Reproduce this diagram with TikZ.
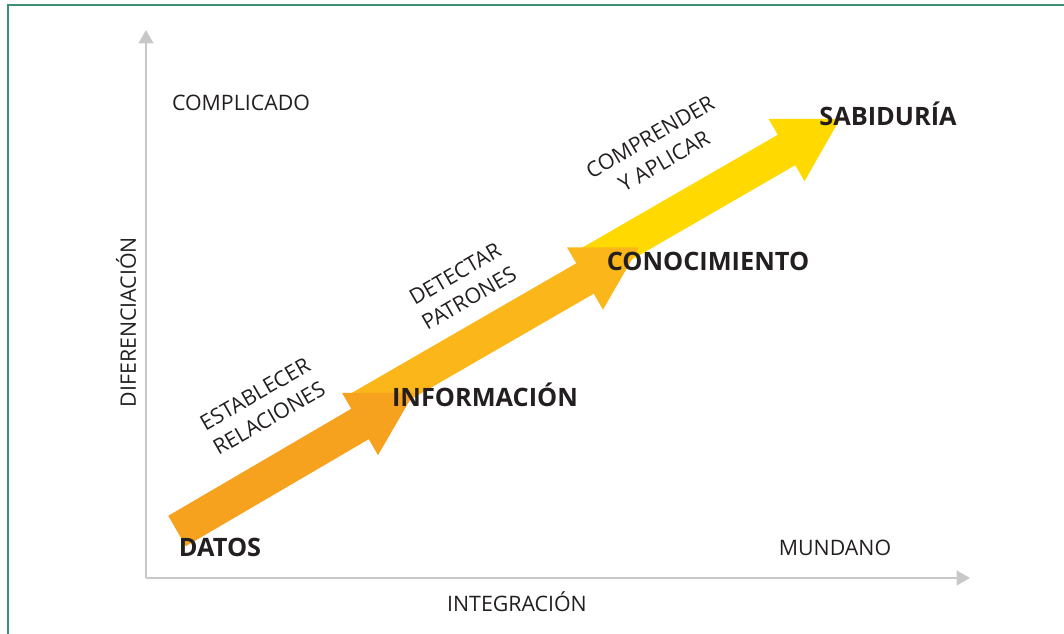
\documentclass[tikz,border=0pt]{standalone}
\usepackage{fontspec}
\setmainfont{Open Sans}
\usetikzlibrary{arrows.meta}
\definecolor{arrA}{HTML}{F7A21E}
\definecolor{arrB}{HTML}{FBB71A}
\definecolor{arrC}{HTML}{FFD900}
\definecolor{axisgray}{HTML}{C8C8C8}
\definecolor{frame}{HTML}{3F8F77}
\definecolor{txt}{HTML}{231F20}
\begin{document}
\begin{tikzpicture}[x=0.75pt,y=-0.75pt,
  lbl/.style={font=\fontsize{16}{21}\selectfont, text=txt, inner sep=0pt},
  big/.style={font=\bfseries\fontsize{19}{22}\selectfont, text=txt, inner sep=0pt},
  diag/.style={lbl, rotate=30, align=center},
  axisline/.style={draw=axisgray, line width=1.6pt, -{Triangle[width=11pt,length=10pt]}}]
\useasboundingbox (0,0) rectangle (1064,634);
% frame
\draw[frame, line width=1.2pt] (8,640) -- (8,5) -- (1070,5);
% axes
\coordinate (O) at (146,578);
\coordinate (Ytop) at (146,30);
\coordinate (Xend) at (970,578);
\draw[axisline] (O) -- (Ytop);
\draw[axisline] (O) -- (Xend);
% arrows (drawn back to front)
\fill[arrC] (579.25,249.4) -- (777.75,134.8) -- (768.5,118.8) -- (840,119) -- (804.5,181.2) -- (795.25,165.2) -- (596.75,279.8) -- cycle;
\fill[arrB] (346.25,396.1) -- (576.25,263.3) -- (567,247.3) -- (638.7,247.5) -- (603,309.7) -- (593.75,293.7) -- (363.75,426.5) -- cycle;
\fill[arrA] (168.25,515.8) -- (351.25,408.8) -- (342,392.8) -- (414,393) -- (378,455.2) -- (368.75,439.2) -- (185.75,546.2) -- cycle;
% labels
\node[lbl] (compl) at (241,103) {COMPLICADO};
\node[lbl] (mund) at (835,548) {MUNDANO};
\node[lbl] (integ) at (517,602) {INTEGRACIÓN};
\node[lbl, rotate=90] (difer) at (126,322) {DIFERENCIACIÓN};
\node[big] (datos) at (220,547) {DATOS};
\node[big] (info) at (485,395) {INFORMACIÓN};
\node[big] (conoc) at (708,261) {CONOCIMIENTO};
\node[big] (sabid) at (888,114) {SABIDURÍA};
\node[diag] (estab) at (262,406) {ESTABLECER\\RELACIONES};
\node[diag] (detec) at (462,286) {DETECTAR\\PATRONES};
\node[diag] (compr) at (657,149) {COMPRENDER\\Y APLICAR};
\end{tikzpicture}
\end{document}
